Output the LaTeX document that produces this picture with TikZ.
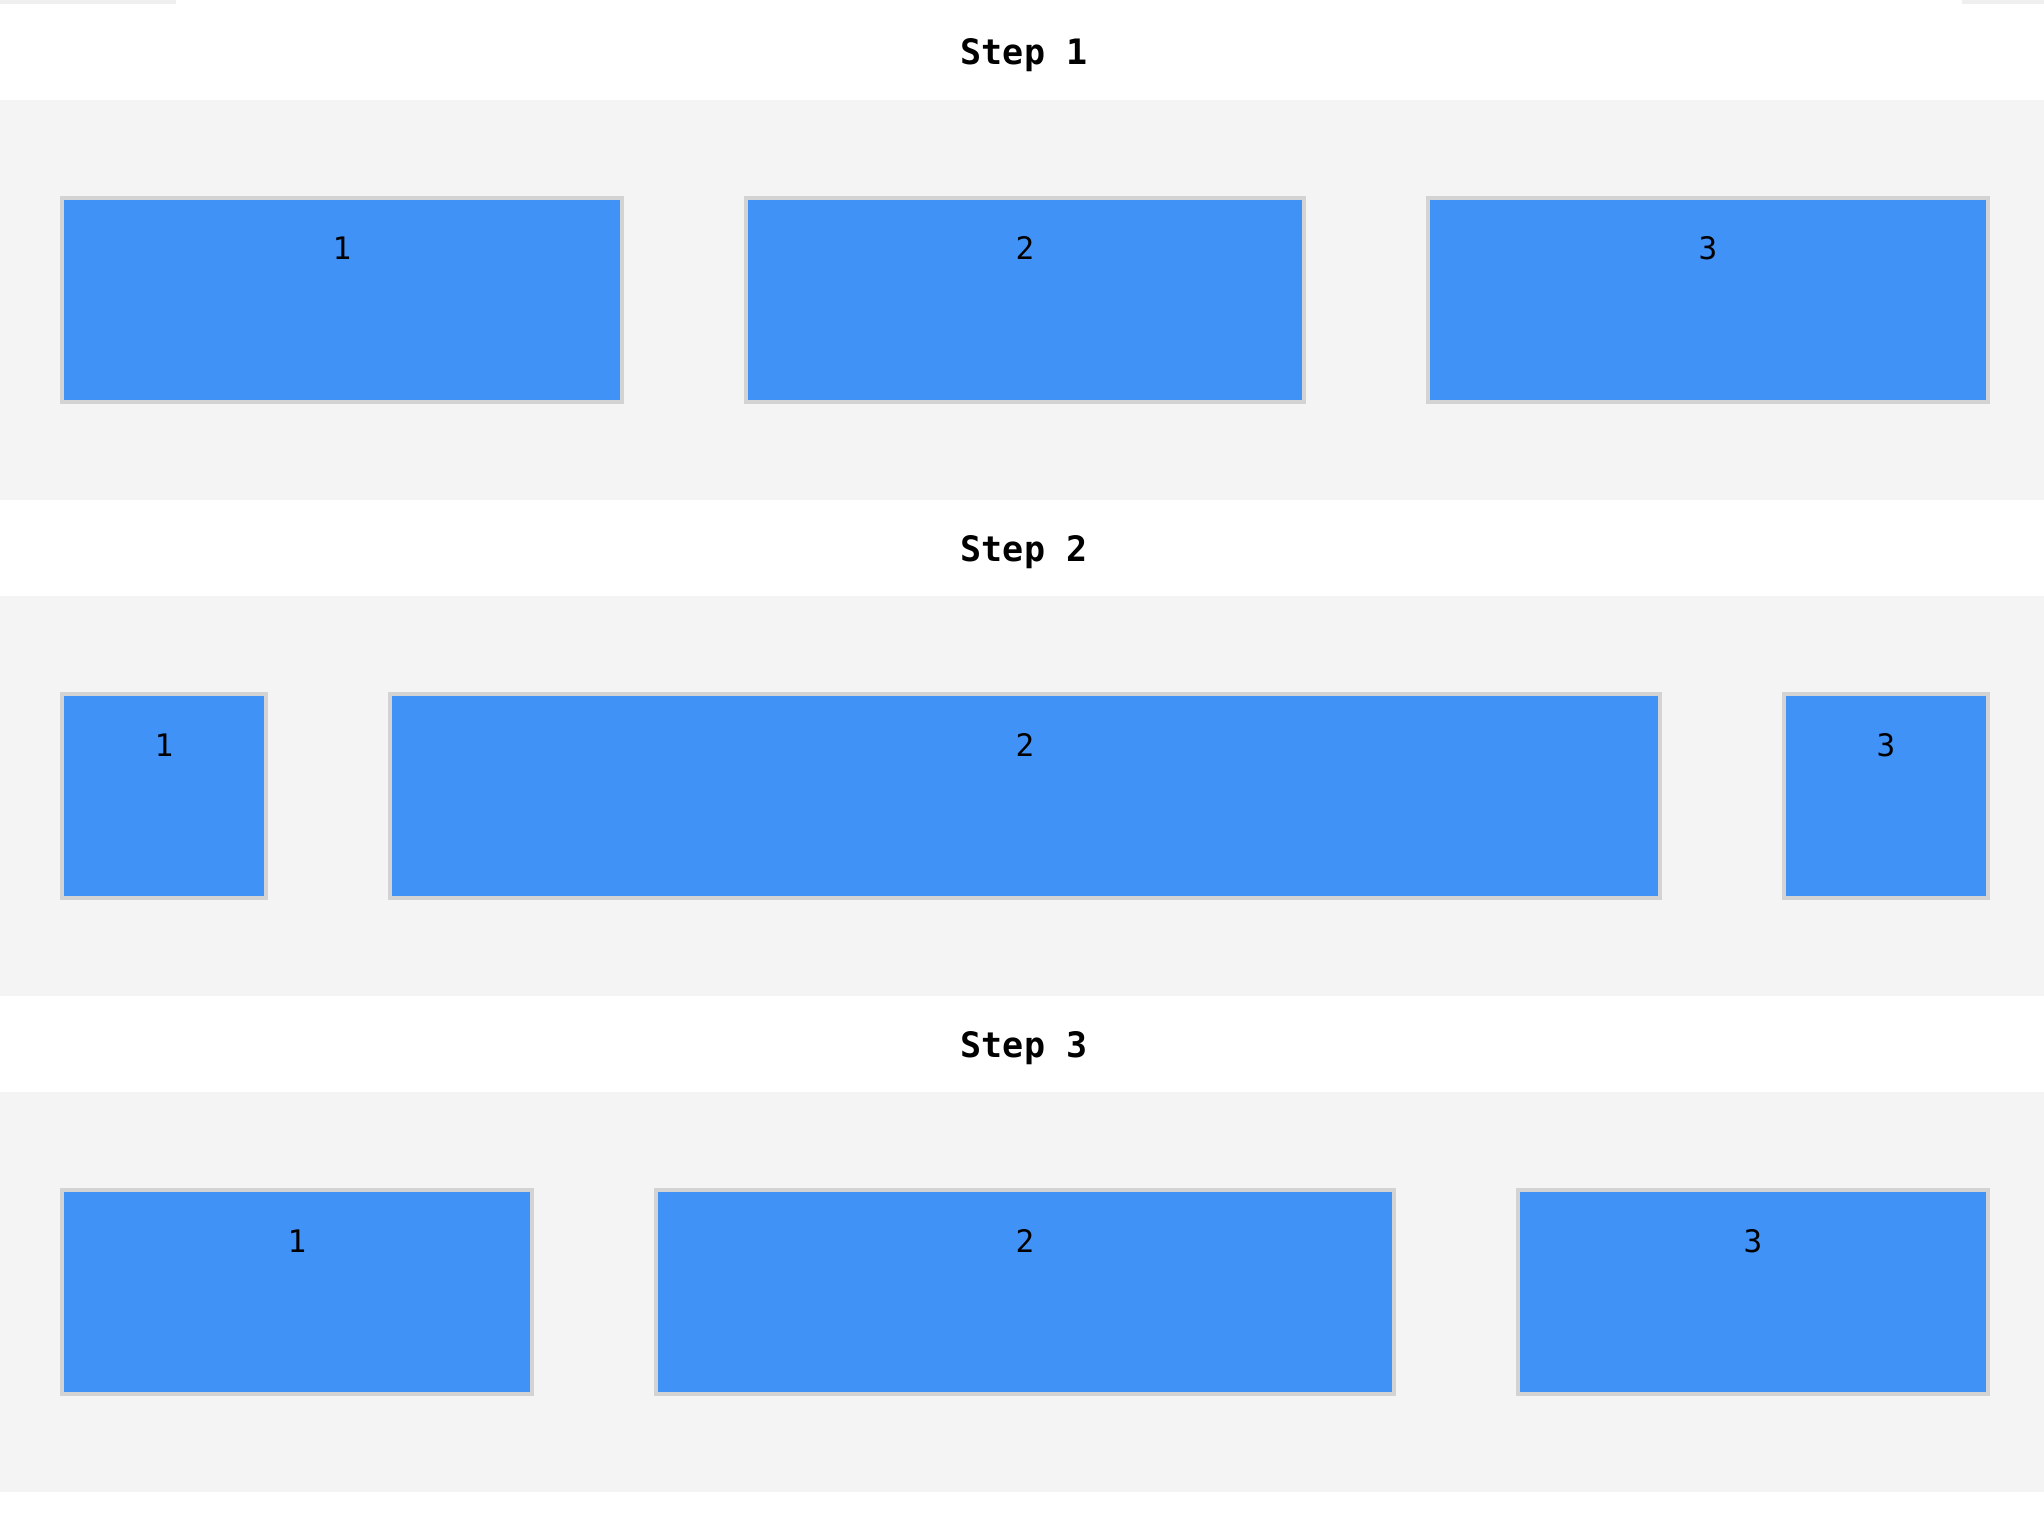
\documentclass[tikz,border=0pt]{standalone}
\usepackage{fontspec}
\setmonofont{DejaVu Sans Mono}
\definecolor{bandgray}{HTML}{F4F4F4}
\definecolor{stripgray}{HTML}{EFEFEF}
\definecolor{boxblue}{HTML}{4192F6}
\definecolor{boxborder}{HTML}{D3D3D3}
\begin{document}
\begin{tikzpicture}[x=1pt,y=-1pt,
  band/.style={fill=bandgray,draw=none},
  blockbox/.style={fill=boxblue,draw=boxborder,line width=4pt},
  steptitle/.style={anchor=base,inner sep=0pt,font=\fontsize{35}{38}\selectfont\ttfamily\bfseries},
  blocklabel/.style={anchor=base,inner sep=0pt,font=\fontsize{31}{34}\selectfont\ttfamily}]
\useasboundingbox[fill=white] (0,0) rectangle (2044,1514);
% top strips
\fill[stripgray] (0,0) rectangle (176,4);
\fill[stripgray] (1962,0) rectangle (2044,4);
% bands
\foreach \t in {100,596,1092}{
  \fill[band] (0,\t) rectangle (2044,\t+400);
}
% titles
\node[steptitle] (t1) at (1024,65) {Step 1};
\node[steptitle] (t2) at (1024,561) {Step 2};
\node[steptitle] (t3) at (1024,1057) {Step 3};
% row 1
\draw[blockbox] (62,198) rectangle (622,402);
\draw[blockbox] (746,198) rectangle (1304,402);
\draw[blockbox] (1428,198) rectangle (1988,402);
\node[blocklabel] (a1) at (342,260) {1};
\node[blocklabel] (a2) at (1025,260) {2};
\node[blocklabel] (a3) at (1708,260) {3};
% row 2
\draw[blockbox] (62,694) rectangle (266,898);
\draw[blockbox] (390,694) rectangle (1660,898);
\draw[blockbox] (1784,694) rectangle (1988,898);
\node[blocklabel] (b1) at (164,756) {1};
\node[blocklabel] (b2) at (1025,756) {2};
\node[blocklabel] (b3) at (1886,756) {3};
% row 3
\draw[blockbox] (62,1190) rectangle (532,1394);
\draw[blockbox] (656,1190) rectangle (1394,1394);
\draw[blockbox] (1518,1190) rectangle (1988,1394);
\node[blocklabel] (c1) at (297,1252) {1};
\node[blocklabel] (c2) at (1025,1252) {2};
\node[blocklabel] (c3) at (1753,1252) {3};
\end{tikzpicture}
\end{document}
